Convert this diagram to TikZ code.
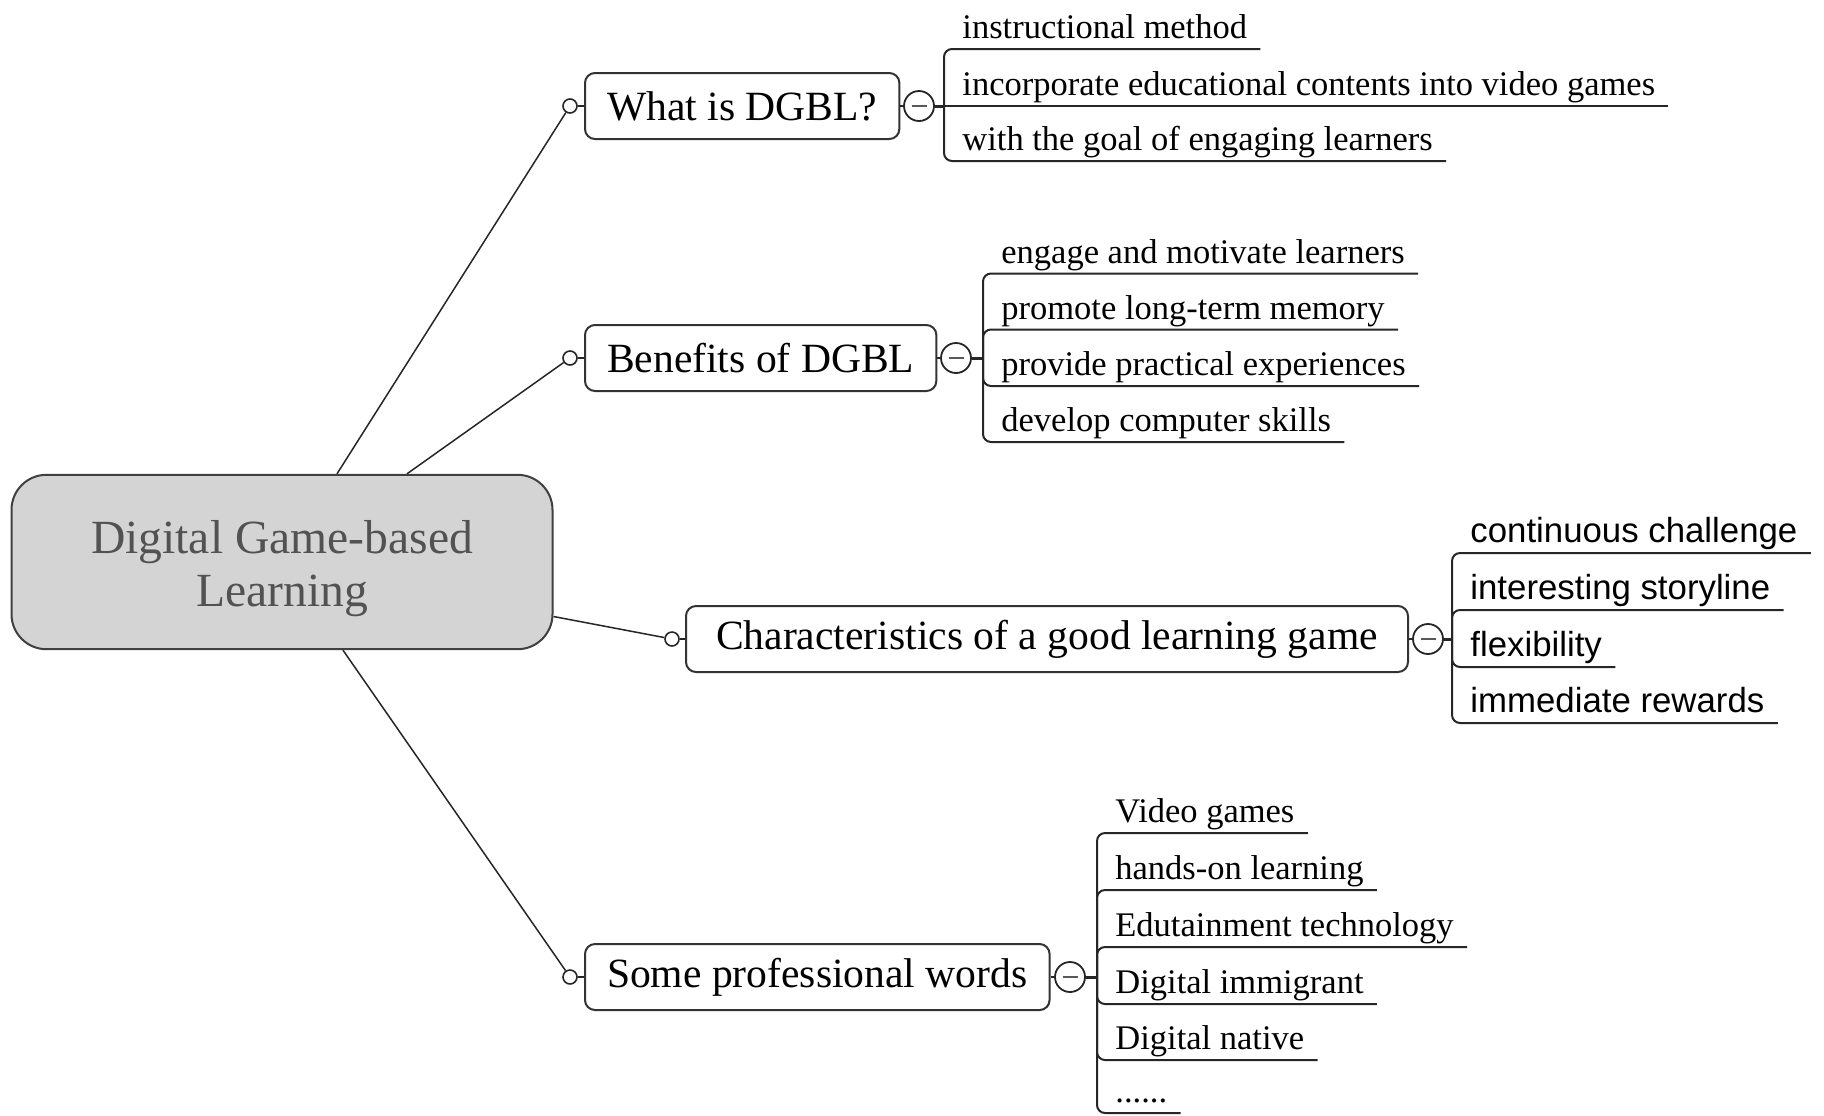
\documentclass[tikz,border=0pt]{standalone}
\usepackage{fontspec}
\setmainfont{Liberation Serif}
\setsansfont{Liberation Sans}

\tikzset{
  topic/.style={draw=black!80, line width=1pt, rounded corners=5pt, fill=white,
    inner xsep=11pt, minimum height=33pt, anchor=west,
    font=\fontsize{20.8}{25}\selectfont},
  leaf/.style={inner xsep=6.5pt, inner ysep=0pt, text depth=5pt, anchor=south west,
    font=\fontsize{17.25}{20}\selectfont},
  sleaf/.style={leaf, font=\fontsize{17.4}{20}\selectfont\sffamily},
  knob/.style={draw=black!85, line width=0.8pt, circle, inner sep=0pt, minimum size=7pt, fill=white},
  fold/.style={draw=black!85, line width=0.9pt, circle, inner sep=0pt, minimum size=15pt, fill=white,
    path picture={\draw[black!65, line width=0.9pt] ([xshift=-3.75pt]path picture bounding box.center)
      -- ([xshift=3.75pt]path picture bounding box.center);}},
  branch/.style={draw=black!85, line width=0.75pt},
  twig/.style={draw=black!85, line width=1pt, rounded corners=4pt},
}

\begin{document}
\begin{tikzpicture}[x=0.5pt,y=-0.5pt]
   \useasboundingbox (0,0) rectangle (1824,1115);

   % central topic
   \path (282,562) node[draw=black!75, fill=black!17, line width=1pt, rounded corners=17.5pt,
     minimum width=270.5pt, minimum height=87.2pt, align=center, text=black!68,
     text height=49.7pt, font=\fontsize{23.8}{26.75}\selectfont] (dgbl) {Digital Game-based\\Learning};

   % What is DGBL?
   \path (570,106) node[knob] (k1) {};
   \path (584,106) node[topic] (b1) {What is DGBL?};
   \path (919,106) node[fold] (f1) {};
   \coordinate (j1) at (944,106);
   \draw[branch] (k1) -- (b1);
   \draw[branch] (b1) -- (f1);
   \draw[line width=1.5pt, black!85] (f1) -- (j1);
   \path (949,49) node[leaf] (l11) {instructional method};
   \path (949,106) node[leaf] (l12) {incorporate educational contents into video games};
   \path (949,161) node[leaf] (l13) {with the goal of engaging learners};
   \draw[twig] (j1) |- (l11.south east);
   \draw[twig] (j1) -- (l12.south east);
   \draw[twig] (j1) |- (l13.south east);

   % Benefits of DGBL
   \path (570,358) node[knob] (k2) {};
   \path (584,358) node[topic] (b2) {Benefits of DGBL};
   \path (956,358) node[fold] (f2) {};
   \coordinate (j2) at (983,358);
   \draw[branch] (k2) -- (b2);
   \draw[branch] (b2) -- (f2);
   \draw[line width=1.5pt, black!85] (f2) -- (j2);
   \path (988,273.5) node[leaf] (l21) {engage and motivate learners};
   \path (988,329.5) node[leaf] (l22) {promote long-term memory};
   \path (988,386) node[leaf] (l23) {provide practical experiences};
   \path (988,442) node[leaf] (l24) {develop computer skills};
   \draw[twig] (j2) |- (l21.south east);
   \draw[twig] (j2) |- (l22.south east);
   \draw[twig] (j2) |- (l23.south east);
   \draw[twig] (j2) |- (l24.south east);

   % Characteristics of a good learning game
   \path (672,639) node[knob] (k3) {};
   \path (685,639) node[topic, minimum width=361pt] (b3) {Characteristics of a good learning game};
   \path (1428,639) node[fold] (f3) {};
   \coordinate (j3) at (1452,639);
   \draw[branch] (k3) -- (b3);
   \draw[branch] (b3) -- (f3);
   \draw[line width=1.5pt, black!85] (f3) -- (j3);
   \path (1457,553) node[sleaf] (l31) {continuous challenge};
   \path (1457,610) node[sleaf] (l32) {interesting storyline};
   \path (1457,667) node[sleaf] (l33) {flexibility};
   \path (1457,723) node[sleaf] (l34) {immediate rewards};
   \draw[twig] (j3) |- (l31.south east);
   \draw[twig] (j3) |- (l32.south east);
   \draw[twig] (j3) |- (l33.south east);
   \draw[twig] (j3) |- (l34.south east);

   % Some professional words
   \path (570,977) node[knob] (k4) {};
   \path (584,977) node[topic] (b4) {Some professional words};
   \path (1070,977) node[fold] (f4) {};
   \coordinate (j4) at (1097,977);
   \draw[branch] (k4) -- (b4);
   \draw[branch] (b4) -- (f4);
   \draw[line width=1.5pt, black!85] (f4) -- (j4);
   \path (1102,833) node[leaf] (l41) {Video games};
   \path (1102,890) node[leaf] (l42) {hands-on learning};
   \path (1102,947) node[leaf] (l43) {Edutainment technology};
   \path (1102,1004) node[leaf] (l44) {Digital immigrant};
   \path (1102,1060) node[leaf] (l45) {Digital native};
   \path (1102,1113) node[leaf] (l46) {......};
   \draw[twig] (j4) |- (l41.south east);
   \draw[twig] (j4) |- (l42.south east);
   \draw[twig] (j4) |- (l43.south east);
   \draw[twig] (j4) |- (l44.south east);
   \draw[twig] (j4) |- (l45.south east);
   \draw[twig] (j4) |- (l46.south east);

   % main branches
   \draw[branch] ([xshift=27.5pt]dgbl.north) -- (k1);
   \draw[branch] ([xshift=62.5pt]dgbl.north) -- (k2);
   \draw[branch] ([yshift=-27.25pt]dgbl.east) -- (k3);
   \draw[branch] ([xshift=30.5pt]dgbl.south) -- (k4);
\end{tikzpicture}
\end{document}
